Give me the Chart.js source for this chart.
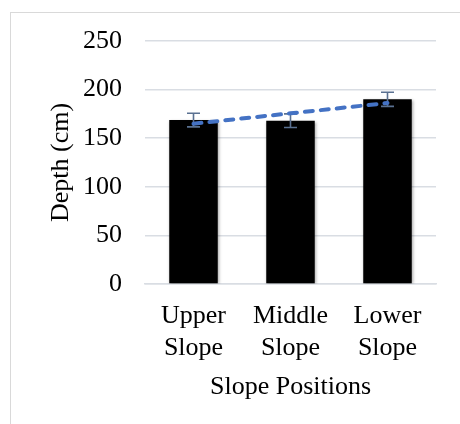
<!DOCTYPE html>
<html>
<head>
<meta charset="utf-8">
<script src="https://cdn.jsdelivr.net/npm/chart.js@4/dist/chart.umd.min.js"></script>
<style>
  html, body { margin: 0; padding: 0; background: #ffffff; }
  canvas { display: block; }
</style>
</head>
<body>
<canvas id="chart" width="460" height="424"></canvas>
<script>
// Soil depth by slope position
const categories = [["Upper", "Slope"], ["Middle", "Slope"], ["Lower", "Slope"]];
const depthMeans = [168.7, 168, 190];
const depthErrors = [7, 7, 7.3];
const yTicks = [0, 50, 100, 150, 200, 250];

// Linear trend (least squares) through the bar means
function linearTrend(values) {
  const n = values.length;
  const xs = values.map((_, i) => i + 1);
  const mx = xs.reduce((a, b) => a + b, 0) / n;
  const my = values.reduce((a, b) => a + b, 0) / n;
  let num = 0, den = 0;
  for (let i = 0; i < n; i++) {
    num += (xs[i] - mx) * (values[i] - my);
    den += (xs[i] - mx) * (xs[i] - mx);
  }
  const slope = num / den;
  return xs.map(x => my + slope * (x - mx));
}
const trendValues = linearTrend(depthMeans);

const FONT = "'Liberation Serif', 'Times New Roman', serif";

// Light frame around the chart
const framePlugin = {
  id: 'frame',
  beforeDraw(chart) {
    const ctx = chart.ctx;
    ctx.save();
    ctx.fillStyle = '#ffffff';
    ctx.fillRect(0, 0, chart.width, chart.height);
    ctx.strokeStyle = '#d9d9d9';
    ctx.lineWidth = 1;
    ctx.strokeRect(10.5, 12.5, chart.width + 20, chart.height + 20);
    ctx.restore();
  }
};

// Soft shadow under bars, error bars drawn right after them
const barExtrasPlugin = {
  id: 'barExtras',
  beforeDatasetDraw(chart, args) {
    if (args.index !== 0) return;
    const ctx = chart.ctx;
    ctx.save();
    ctx.shadowColor = 'rgba(0,0,0,0.35)';
    ctx.shadowBlur = 3;
    ctx.shadowOffsetX = 1;
    ctx.shadowOffsetY = 1;
  },
  afterDatasetDraw(chart, args) {
    if (args.index !== 0) return;
    const ctx = chart.ctx;
    ctx.restore();
    const meta = chart.getDatasetMeta(0);
    const y = chart.scales.y;
    ctx.save();
    ctx.strokeStyle = '#5a7191';
    ctx.lineWidth = 1.6;
    meta.data.forEach((bar, i) => {
      const x = bar.x;
      const top = y.getPixelForValue(depthMeans[i] + depthErrors[i]);
      const bot = y.getPixelForValue(depthMeans[i] - depthErrors[i]);
      const cap = 6.5;
      ctx.beginPath();
      ctx.moveTo(x, top); ctx.lineTo(x, bot);
      ctx.moveTo(x - cap, top); ctx.lineTo(x + cap, top);
      ctx.moveTo(x - cap, bot); ctx.lineTo(x + cap, bot);
      ctx.stroke();
    });
    ctx.restore();
  }
};

new Chart(document.getElementById('chart'), {
  type: 'bar',
  data: {
    labels: categories,
    datasets: [
      {
        type: 'bar',
        label: 'Depth',
        data: depthMeans,
        backgroundColor: '#000000',
        borderWidth: 0,
        barPercentage: 0.5,
        categoryPercentage: 1.0,
        order: 2
      },
      {
        type: 'line',
        label: 'Linear (Depth)',
        data: trendValues,
        borderColor: '#4472c4',
        borderWidth: 4,
        borderDash: [8, 8],
        borderCapStyle: 'round',
        pointRadius: 0,
        fill: false,
        tension: 0,
        order: 1
      }
    ]
  },
  options: {
    responsive: false,
    animation: false,
    events: [],
    layout: { padding: { left: 20, top: 41, right: 24, bottom: 0 } },
    plugins: {
      legend: { display: false },
      tooltip: { enabled: false }
    },
    scales: {
      x: {
        grid: { display: false, drawTicks: false },
        border: { display: true, color: '#d9dde3', width: 1.5 },
        ticks: {
          color: '#000000',
          font: { family: FONT, size: 26 },
          padding: 17,
          maxRotation: 0,
          autoSkip: false
        },
        title: {
          display: true,
          text: 'Slope Positions',
          color: '#000000',
          font: { family: FONT, size: 26 },
          padding: { top: 0, bottom: 21 }
        },
        afterFit(scale) { scale.height = 140; }
      },
      y: {
        min: 0,
        max: 250,
        afterBuildTicks(scale) { scale.ticks = yTicks.map(v => ({ value: v })); },
        grid: { color: '#d9dde3', lineWidth: 1.5, drawTicks: false },
        border: { display: false },
        ticks: {
          color: '#000000',
          font: { family: FONT, size: 26 },
          padding: 23
        },
        title: {
          display: true,
          text: 'Depth (cm)',
          color: '#000000',
          font: { family: FONT, size: 26 },
          padding: { top: 26, bottom: 0 }
        },
        afterFit(scale) { scale.width = 125; }
      }
    }
  },
  plugins: [framePlugin, barExtrasPlugin]
});
</script>
</body>
</html>
